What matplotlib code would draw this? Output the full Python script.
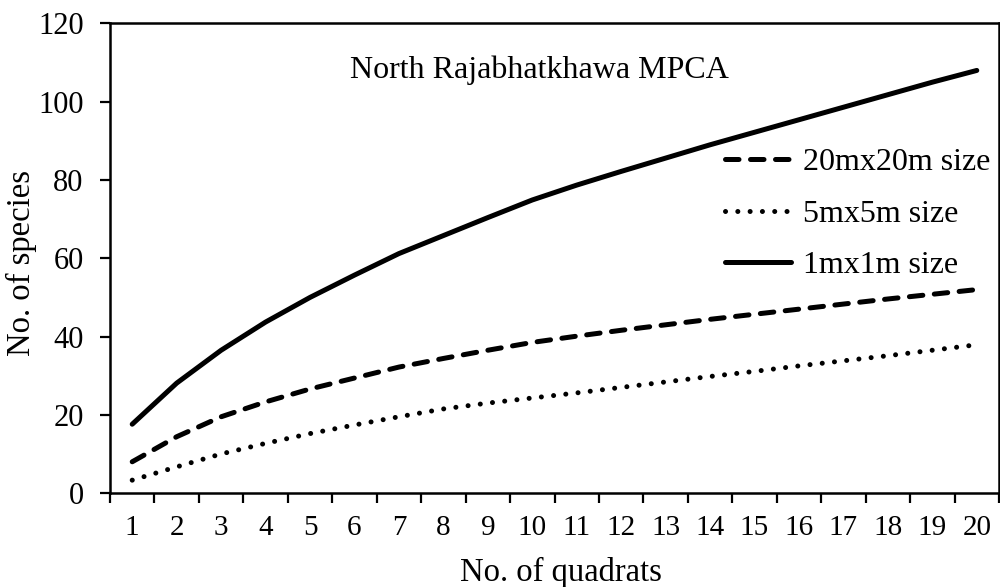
import matplotlib
matplotlib.use("Agg")
import matplotlib.pyplot as plt
import numpy as np

plt.rcParams['font.family'] = ['Liberation Serif', 'DejaVu Serif']

# Species-area data: cumulative species against number of quadrats
quadrats = list(range(1, 21))
q20x20 = [8.0, 14.4, 19.5, 23.3, 26.6, 29.4, 32.2, 34.4, 36.5, 38.5,
          40.1, 41.6, 43.0, 44.4, 45.7, 47.0, 48.3, 49.6, 50.8, 52.0]
q5x5 = [3.3, 6.7, 10.0, 12.7, 15.2, 17.4, 19.5, 21.5, 23.0, 24.3,
        25.6, 27.0, 28.4, 29.8, 31.1, 32.5, 33.8, 35.1, 36.5, 37.9]
q1x1 = [17.6, 28.1, 36.5, 43.7, 50.0, 55.7, 61.2, 65.8, 70.4, 74.9,
        78.7, 82.2, 85.6, 89.0, 92.2, 95.4, 98.6, 101.8, 105.0, 108.0]
series_labels = ['20mx20m size', '5mx5m size', '1mx1m size']
site_name = 'North Rajabhatkhawa MPCA'

fig = plt.figure(figsize=(10, 5.87), dpi=100)
ax = fig.add_axes([0.110, 0.160, 0.889, 0.800])

lw = 3.6
ax.plot(quadrats, q20x20, color='black', lw=lw, linestyle=(0, (2.7, 2.3)),
        dash_capstyle='round', solid_capstyle='round', label=series_labels[0])
ax.plot(quadrats, q5x5, color='black', lw=lw, linestyle=(0, (0.01, 2.45)),
        dash_capstyle='round', label=series_labels[1])
ax.plot(quadrats, q1x1, color='black', lw=lw, linestyle='-',
        solid_capstyle='round', label=series_labels[2])

ax.set_xlim(0.5, 20.5)
ax.set_ylim(0, 120)
ax.set_yticks(np.arange(0, 121, 20))

# category labels centred, tick marks on category boundaries
ax.set_xticks(quadrats)
ax.set_xticklabels([str(q) for q in quadrats])
ax.set_xticks(np.arange(0.5, 21, 1), minor=True)
ax.tick_params(axis='x', which='major', length=0, pad=16, labelsize=21)
ax.tick_params(axis='x', which='minor', length=7, width=1.6, direction='out')
ax.tick_params(axis='y', length=7, width=1.6, direction='out', pad=12, labelsize=22)

for s in ax.spines.values():
    s.set_linewidth(1.8)

ax.set_xlabel('No. of quadrats', fontsize=23.5)
ax.xaxis.set_label_coords(0.507, -0.136)
ax.set_ylabel('No. of species', fontsize=23.5)
ax.yaxis.set_label_coords(-0.082, 0.49)

ax.text(0.4826, 0.8836, site_name, transform=ax.transAxes, fontsize=23,
        ha='center', va='baseline')

leg = ax.legend(loc='upper left', bbox_to_anchor=(0.692, 0.735), frameon=False,
                fontsize=23, handlelength=2.05, handletextpad=0.38,
                labelspacing=0.69, borderaxespad=0, borderpad=0)

fig.savefig('out.png', dpi=100)
